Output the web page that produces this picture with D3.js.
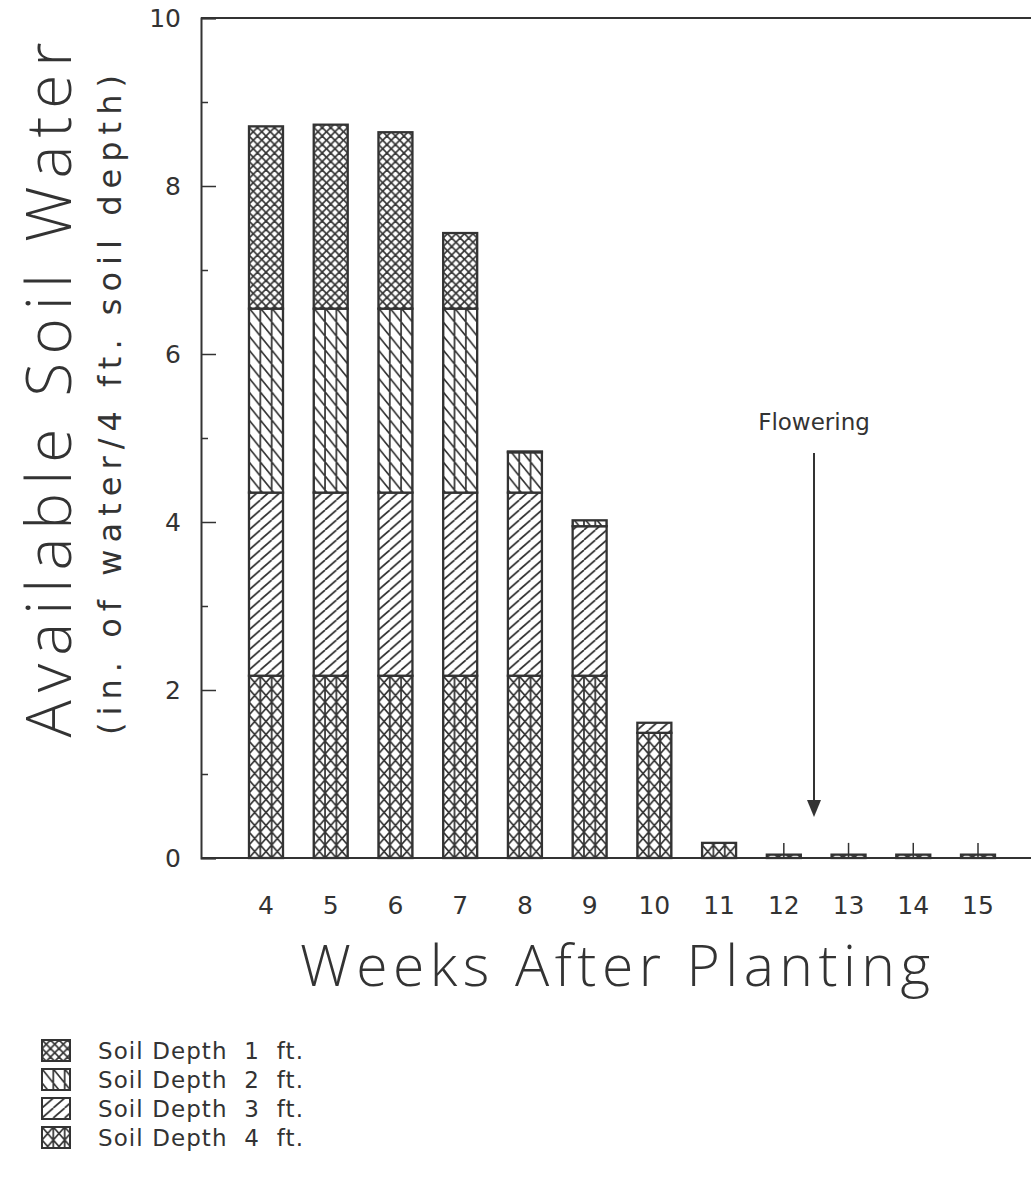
<!DOCTYPE html>
<html><head><meta charset="utf-8">
<script src="https://cdn.jsdelivr.net/npm/d3@7"></script>
<style>html,body{margin:0;padding:0;background:#fff}</style>
</head><body>
<script>
const weeks = [4,5,6,7,8,9,10,11,12,13,14,15];
const depth4 = [2.17,2.17,2.17,2.17,2.17,2.17,1.49,0.18,0.04,0.04,0.04,0.04];
const depth3 = [2.18,2.18,2.18,2.18,2.18,1.78,0.12,0,0,0,0,0];
const depth2 = [2.19,2.19,2.19,2.19,0.48,0.07,0,0,0,0,0,0];
const depth1 = [2.17,2.19,2.10,0.90,0.01,0,0,0,0,0,0,0];
const markTop = [0,0,0,0,0,0,0,0,0.18,0.18,0.18,0.18];
const yTicks = [0,2,4,6,8,10];
const yMinor = [1,3,5,7,9];
const legendLabels = ["Soil Depth  1  ft.","Soil Depth  2  ft.","Soil Depth  3  ft.","Soil Depth  4  ft."];
const seriesKeys = ["p4","p3","p2","p1"];

const W=1031,H=1199, C="#333";
const svg=d3.select("body").append("svg").attr("width",W).attr("height",H);
const x=d3.scaleLinear().domain([4,15]).range([266,978]);
const y=d3.scaleLinear().domain([0,10]).range([858,18]);
const bw=34, cw=bw/3;

const defs=svg.append("defs");
function pat(id,w,h,draw){
  const p=defs.append("pattern").attr("id",id).attr("patternUnits","userSpaceOnUse").attr("width",w).attr("height",h);
  p.append("rect").attr("width",w).attr("height",h).attr("fill","#fff");
  draw(p,w,h);
}
function ln(p,x1,y1,x2,y2,sw){p.append("line").attr("x1",x1).attr("y1",y1).attr("x2",x2).attr("y2",y2).attr("stroke",C).attr("stroke-width",sw||1.7);}
pat("p1",8.5,8.5,(p,w,h)=>{ln(p,0,0,w,h);ln(p,0,h,w,0);ln(p,-w/2,h/2,w/2,h*1.5);ln(p,w/2,-h/2,w*1.5,h/2);ln(p,-w/2,h/2,w/2,-h/2);ln(p,w/2,h*1.5,w*1.5,h/2);});
pat("p2",cw,14,(p,w,h)=>{ln(p,0,0,w,h);ln(p,0,0,0,h);ln(p,w,0,w,h);});
pat("p3",cw,10,(p,w,h)=>{ln(p,0,h,w,0);ln(p,-w,h,0,0);ln(p,w,h,2*w,0);});
pat("p4",cw,13,(p,w,h)=>{ln(p,0,0,w,h);ln(p,0,h,w,0);ln(p,0,0,0,h);ln(p,w,0,w,h);});

svg.append("line").attr("x1",201).attr("x2",W).attr("y1",y(10)).attr("y2",y(10)).attr("stroke",C).attr("stroke-width",2);
svg.append("line").attr("x1",201).attr("x2",W).attr("y1",y(0)).attr("y2",y(0)).attr("stroke",C).attr("stroke-width",2);
const yAxis=svg.append("g").attr("transform","translate(201,0)")
  .call(d3.axisRight(y).tickValues(yTicks).tickSize(15).tickFormat(""));
yAxis.select(".domain").attr("stroke",C).attr("stroke-width",2);
yAxis.selectAll(".tick line").attr("stroke",C).attr("stroke-width",1.5);
svg.append("g").attr("transform","translate(201,0)")
  .call(d3.axisRight(y).tickValues(yMinor).tickSize(7).tickFormat(""))
  .call(g=>{g.select(".domain").remove();g.selectAll(".tick line").attr("stroke",C).attr("stroke-width",1.5);});
svg.append("g").selectAll("text").data(yTicks).join("text")
  .attr("x",181).attr("y",d=>y(d)+9).attr("text-anchor","end")
  .attr("font-family","DejaVu Sans").attr("font-size",25).attr("fill",C).text(d=>d);
svg.append("g").selectAll("text").data(weeks).join("text")
  .attr("x",d=>x(d)).attr("y",914).attr("text-anchor","middle")
  .attr("font-family","DejaVu Sans").attr("font-size",25).attr("fill",C).text(d=>d);

const rows=weeks.map((w,i)=>({w,vals:[depth4[i],depth3[i],depth2[i],depth1[i]],mark:markTop[i]}));
const bars=svg.append("g").selectAll("g").data(rows).join("g")
  .attr("transform",d=>`translate(${x(d.w)-bw/2},0)`);
bars.each(function(d){
  const g=d3.select(this); let cum=0;
  d.vals.forEach((v,k)=>{
    if(v<=0) return;
    g.append("rect").attr("x",0).attr("width",bw).attr("y",y(cum+v)).attr("height",y(cum)-y(cum+v))
      .attr("fill",`url(#${seriesKeys[k]})`).attr("stroke",C).attr("stroke-width",2.3);
    cum+=v;
  });
  if(d.mark>0) g.append("line").attr("x1",bw/2).attr("x2",bw/2).attr("y1",y(0)).attr("y2",y(d.mark)).attr("stroke",C).attr("stroke-width",1.5);
});

const fx=814;
svg.append("text").attr("x",fx).attr("y",430).attr("text-anchor","middle")
  .attr("font-family","DejaVu Sans").attr("font-size",23).attr("fill",C).text("Flowering");
svg.append("line").attr("x1",fx).attr("x2",fx).attr("y1",453).attr("y2",805).attr("stroke",C).attr("stroke-width",2);
svg.append("path").attr("d",`M${fx-7},800 L${fx+7},800 L${fx},817 Z`).attr("fill",C);

svg.append("text").attr("transform","translate(71,390) rotate(-90)").attr("text-anchor","middle")
  .attr("font-family","Open Sans, DejaVu Sans").attr("font-weight",300).attr("font-size",62).attr("fill",C)
  .attr("textLength",695).attr("lengthAdjust","spacing").text("Available Soil Water");
svg.append("text").attr("transform","translate(121,405) rotate(-90)").attr("text-anchor","middle")
  .attr("font-family","DejaVu Sans").attr("font-size",32).attr("fill",C)
  .attr("textLength",660).attr("lengthAdjust","spacing").text("(in. of water/4 ft. soil depth)");
svg.append("text").attr("x",615).attr("y",986).attr("text-anchor","middle")
  .attr("font-family","Open Sans, DejaVu Sans").attr("font-weight",300).attr("font-size",57).attr("fill",C)
  .attr("textLength",630).attr("lengthAdjust","spacing").text("Weeks After Planting");

const leg=svg.append("g").selectAll("g").data(legendLabels).join("g")
  .attr("transform",(d,i)=>`translate(42,${1040+i*29})`);
leg.append("rect").attr("width",28).attr("height",21).attr("fill",(d,i)=>`url(#p${i+1})`).attr("stroke",C).attr("stroke-width",2);
leg.append("text").attr("x",56).attr("y",19).attr("font-family","DejaVu Sans").attr("font-size",23).attr("fill",C)
  .attr("xml:space","preserve").style("white-space","pre")
  .attr("textLength",205).attr("lengthAdjust","spacing").text(d=>d);
</script>
</body></html>
